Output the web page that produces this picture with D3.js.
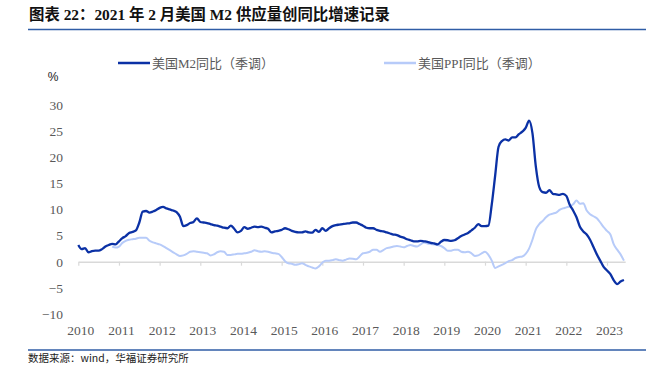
<!DOCTYPE html>
<html>
<head>
<meta charset="utf-8">
<script src="https://cdn.jsdelivr.net/npm/d3@7"></script>
<style>
  body { margin: 0; background: #fff; }
  svg { display: block; }
</style>
</head>
<body>
<div id="chart"></div>
<script>
// monthly series, M2 from Jan 2010, PPI from Nov 2010
const m2Start = 2010;
const m2 = [
  3.2, 2.4, 2.6, 1.8, 2.0, 2.1, 2.1, 2.4, 2.9, 3.2, 3.4, 3.3,
  3.9, 4.5, 4.9, 5.5, 5.7, 6.0, 7.5, 9.6, 9.7, 9.4, 9.6, 9.9,
  10.3, 10.5, 10.2, 10.0, 9.8, 9.5, 8.6, 6.8, 7.0, 7.4, 7.6, 8.3,
  7.6, 7.5, 7.4, 7.2, 7.0, 6.9, 6.7, 6.5, 6.4, 6.9, 6.3, 5.6,
  5.9, 6.6, 6.3, 6.5, 6.7, 6.6, 6.7, 6.5, 6.3, 5.6, 5.8, 5.9,
  6.1, 6.4, 6.2, 5.9, 5.7, 5.6, 5.6, 5.8, 5.6, 5.55, 6.1, 5.7,
  6.4, 5.9, 6.4, 6.8, 7.0, 7.1, 7.2, 7.3, 7.35, 7.5, 7.5, 7.2,
  6.9, 6.5, 6.4, 6.4, 6.1, 5.9, 5.8, 5.6, 5.4, 5.2, 5.1, 4.8,
  4.6, 4.3, 4.1, 3.9, 3.9, 4.0, 3.9, 3.8, 3.6, 3.5, 3.3, 3.8,
  4.15, 4.1, 4.0, 4.1, 4.5, 4.9, 5.2, 5.5, 6.0, 6.5, 7.2, 6.8,
  6.8, 6.9, 11.0, 16.5, 22.0, 23.1, 23.4, 23.2, 23.8, 23.8, 24.4, 24.9,
  25.6, 27.0, 24.6, 18.2, 14.3, 13.3, 13.2, 13.7, 13.0, 12.9, 12.8, 13.0,
  12.6, 10.9, 9.8, 8.5, 6.7, 5.8, 5.2, 4.2, 2.8, 1.4, 0.2, -1.0,
  -1.7, -2.4, -3.6, -4.3, -3.8, -3.5
];

const ppiStart = 2010 + 10 / 12;
const ppi = [
  2.9, 2.7,
  2.9, 3.6, 4.0, 4.2, 4.3, 4.4, 4.6, 4.6, 4.6, 4.0, 3.7, 3.5,
  3.3, 3.0, 2.6, 2.2, 1.8, 1.4, 1.1, 1.2, 1.5, 1.9, 2.0, 1.9,
  1.8, 1.7, 1.6, 1.2, 1.4, 1.8, 2.0, 1.9, 1.3, 1.3, 1.4, 1.5,
  1.5, 1.6, 1.7, 1.9, 2.2, 2.0, 1.9, 2.0, 1.9, 1.7, 1.6, 1.5,
  0.9, 0.1, -0.3, -0.4, -0.6, -0.5, -0.3, -0.6, -0.9, -1.1, -1.3, -0.9,
  -0.2, 0.2, 0.2, 0.3, 0.45, 0.3, 0.2, 0.4, 0.6, 0.55, 0.45, 1.0,
  1.6, 1.7, 1.9, 2.3, 2.3, 1.9, 2.2, 2.6, 2.7, 2.9, 3.0, 2.9,
  2.75, 3.0, 3.2, 3.0, 2.9, 3.3, 3.65, 3.5, 3.4, 3.3, 3.2, 3.0,
  2.6, 2.1, 2.1, 2.3, 2.3, 1.9, 1.8, 1.9, 1.6, 1.1, 1.2, 1.6,
  1.9, 1.3, 0.2, -1.2, -0.9, -0.6, -0.3, 0.1, 0.3, 0.7, 0.9, 1.0,
  1.5, 2.5, 4.2, 6.2, 7.2, 7.8, 8.5, 9.0, 9.2, 9.4, 9.9, 10.2,
  10.4, 10.6, 11.0, 11.7, 11.1, 11.2, 9.8, 9.1, 8.7, 8.3, 7.5, 6.6,
  5.9, 5.2, 3.3, 2.3, 1.4, 0.2
];

const years = d3.range(2010, 2024);
const yTicks = [-10, -5, 0, 5, 10, 15, 20, 25, 30];

const title = "图表 22：2021 年 2 月美国 M2 供应量创同比增速记录";
const seriesNames = ["美国M2同比（季调）", "美国PPI同比（季调）"];
const source = "数据来源：wind，华福证券研究所";

const width = 646, height = 366;
const serif = "'Liberation Serif', 'Times New Roman', 'Noto Sans CJK SC', serif";
const darkBlue = "#0b31a5", lightBlue = "#b7cbf9";

const svg = d3.select("#chart").append("svg")
    .attr("width", width)
    .attr("height", height)
    .attr("viewBox", [0, 0, width, height]);

// title and rules
svg.append("text")
    .attr("x", 29)
    .attr("y", 20)
    .attr("font-family", "'Liberation Serif', 'Noto Sans CJK SC', serif")
    .attr("font-weight", "bold")
    .attr("font-size", 15.4)
    .attr("fill", "#111")
    .text(title);

svg.append("line")
    .attr("x1", 28).attr("x2", width)
    .attr("y1", 29.5).attr("y2", 29.5)
    .attr("stroke", "#2f5da6").attr("stroke-width", 1.3);

svg.append("line")
    .attr("x1", 28).attr("x2", width)
    .attr("y1", 350).attr("y2", 350)
    .attr("stroke", "#2f5da6").attr("stroke-width", 1.3);

svg.append("text")
    .attr("x", 28)
    .attr("y", 362)
    .attr("font-family", "'Noto Sans CJK SC', sans-serif")
    .attr("font-size", 10.5)
    .attr("fill", "#222")
    .text(source);

// scales
const lastT = m2Start + (m2.length - 1) / 12;
const xScale = d3.scaleLinear([2010, lastT + 0.03], [78.3, 78.3 + (lastT + 0.03 - 2010) * 40.67]);
const yScale = d3.scaleLinear([-10, 30], [313.9, 105]);

// y axis labels
const yAxis = svg.append("g")
    .attr("transform", "translate(63,0)")
    .call(d3.axisLeft(yScale).tickValues(yTicks).tickSize(0).tickPadding(0));
yAxis.select(".domain").remove();
yAxis.selectAll("text")
    .attr("font-family", serif)
    .attr("font-size", 13.5)
    .attr("fill", "#595959");

svg.append("text")
    .attr("x", 53)
    .attr("y", 81)
    .attr("text-anchor", "middle")
    .attr("font-family", "'Liberation Sans', Arial, sans-serif")
    .attr("font-size", 12)
    .attr("fill", "#222")
    .text("%");

// x axis on the zero line
const xAxis = svg.append("g")
    .attr("transform", `translate(0,${yScale(0)})`)
    .call(d3.axisBottom(xScale).tickValues(years).tickFormat(d3.format("d"))
        .tickSize(4).tickSizeOuter(0).tickPadding(60));
xAxis.select(".domain").attr("stroke", "#d9d9d9").attr("stroke-width", 1.5);
xAxis.selectAll(".tick line").attr("stroke", "#d9d9d9").attr("stroke-width", 1.2);
xAxis.selectAll("text")
    .attr("font-family", serif)
    .attr("font-size", 13.5)
    .attr("fill", "#595959")
    .attr("dx", 2);

// lines
const line = start => d3.line()
    .x((_, i) => xScale(start + i / 12))
    .y(d => yScale(d))
    .curve(d3.curveMonotoneX);

svg.append("path")
    .datum(ppi)
    .attr("fill", "none")
    .attr("stroke", lightBlue)
    .attr("stroke-width", 2)
    .attr("d", line(ppiStart));

svg.append("path")
    .datum(m2)
    .attr("fill", "none")
    .attr("stroke", darkBlue)
    .attr("stroke-width", 2.3)
    .attr("d", line(m2Start));

// legend
const legend = [
    { name: seriesNames[0], color: darkBlue, x: 118, w: 2.5 },
    { name: seriesNames[1], color: lightBlue, x: 384, w: 2.5 }
];
legend.forEach(l => {
    svg.append("line")
        .attr("x1", l.x).attr("x2", l.x + 32)
        .attr("y1", 63).attr("y2", 63)
        .attr("stroke", l.color).attr("stroke-width", l.w);
    svg.append("text")
        .attr("x", l.x + 34)
        .attr("y", 67.5)
        .attr("font-family", serif)
        .attr("font-size", 13)
        .attr("fill", "#595959")
        .text(l.name);
});
</script>
</body>
</html>
